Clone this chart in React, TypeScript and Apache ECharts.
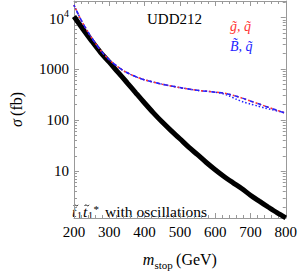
import React, { useEffect, useRef } from "react";
import * as echarts from "echarts";

const stopMass = [200, 225, 250, 275, 300, 325, 350, 375, 400, 425, 450, 475, 500, 525, 550, 575, 600, 625, 650, 675, 700, 725, 750, 775, 800];
const stopXsec = [10500, 6000, 3500, 2100, 1350, 850, 540, 340, 215, 138, 91, 62, 43, 29.5, 21, 14.8, 10.7, 7.9, 6.0, 4.6, 3.4, 2.6, 2.0, 1.55, 1.23];

const upperMass = [200, 220, 240, 260, 280, 300, 320, 340, 360, 380, 400, 450, 500, 550, 600, 625, 650, 675, 700, 725, 750, 775, 800];
const gluinoXsec = [17500, 9000, 5200, 3200, 2100, 1500, 1150, 920, 780, 680, 610, 500, 430, 380, 350, 335, 305, 270, 235, 205, 178, 155, 135];
const binoXsec = [17500, 9000, 5200, 3200, 2100, 1500, 1150, 920, 780, 680, 610, 500, 430, 380, 350, 335, 305, 270, 235, 205, 178, 155, 135];

const binoAltMass = [200, 220, 240, 260, 280, 300, 320, 340, 360, 380, 400, 450, 500, 550, 600, 620, 640, 660, 680, 700, 720, 740, 760, 780, 800];
const binoAltXsec = [17500, 9000, 5200, 3200, 2100, 1500, 1150, 920, 780, 680, 610, 500, 430, 380, 350, 330, 295, 255, 225, 205, 188, 172, 160, 148, 138];

const xTicks = [200, 300, 400, 500, 600, 700, 800];
const yMin = 1.22;
const yMax = 21100;

const pairs = (xs: number[], ys: number[]) => xs.map((x, i) => [x, ys[i]]);

const SERIF = "Liberation Serif";

export default function App() {
  const ref = useRef<HTMLDivElement>(null);
  useEffect(() => {
    if (!ref.current) return;
    const chart = echarts.init(ref.current, null, { renderer: "svg" });
    const axisGray = "#999999";
    const baseX = {
      type: "value",
      min: xTicks[0],
      max: xTicks[xTicks.length - 1],
      interval: 100,
      axisLine: { show: true, lineStyle: { color: axisGray, width: 1 } },
      axisTick: { show: true, inside: true, length: 5, lineStyle: { color: axisGray } },
      minorTick: { show: true, splitNumber: 5, length: 3, lineStyle: { color: axisGray } },
      splitLine: { show: false },
    };
    const baseY = {
      type: "log",
      logBase: 10,
      min: yMin,
      max: yMax,
      axisLine: { show: true, lineStyle: { color: axisGray, width: 1 } },
      axisTick: { show: true, inside: true, length: 5, lineStyle: { color: axisGray } },
      minorTick: { show: true, splitNumber: 9, length: 3, lineStyle: { color: axisGray } },
      splitLine: { show: false },
    };
    const txt = (text: string, x: number, y: number, size: number, italic = false) => ({
      type: "text",
      x,
      y,
      style: {
        text,
        fontFamily: SERIF,
        fontStyle: italic ? "italic" : "normal",
        fontSize: size,
        fill: "#000",
        verticalAlign: "top",
        align: "left",
      },
    });
    const tilde = (x: number, y: number) => ({
      type: "bezierCurve",
      shape: { x1: x, y1: y + 1.2, x2: x + 4.6, y2: y, cpx1: x + 1.6, cpy1: y - 1.8, cpx2: x + 3, cpy2: y + 3 },
      style: { stroke: "#000", lineWidth: 0.9, fill: null },
    });
    chart.setOption({
      animation: false,
      grid: { left: 60, right: 13, top: 1, bottom: 48, containLabel: false },
      xAxis: [
        {
          ...baseX,
          position: "bottom",
          axisLabel: { show: true, margin: 6, color: "#000", fontFamily: SERIF, fontSize: 15 },
          name: "{m|m}{s|stop} {g|(GeV)}",
          nameLocation: "middle",
          nameGap: 31,
          nameTextStyle: {
            rich: {
              m: { fontFamily: SERIF, fontStyle: "italic", fontSize: 16, color: "#000", lineHeight: 18, verticalAlign: "bottom" },
              s: { fontFamily: SERIF, fontSize: 11, color: "#000", lineHeight: 18, verticalAlign: "bottom", padding: [0, 0, -3, 0] },
              g: { fontFamily: SERIF, fontSize: 16, color: "#000", lineHeight: 18, verticalAlign: "bottom" },
            },
          },
        },
        {
          ...baseX,
          position: "top",
          axisLabel: { show: false },
        },
      ],
      yAxis: [
        {
          ...baseY,
          position: "left",
          axisLabel: {
            show: true,
            margin: 5,
            showMinLabel: false,
            showMaxLabel: false,
            color: "#000",
            fontFamily: SERIF,
            fontSize: 15,
            formatter: (v: number) => (Math.abs(v - 10000) < 1 ? "{b|10}{p|4}" : String(Math.round(v))),
            rich: {
              b: { fontFamily: SERIF, fontSize: 15, color: "#000", lineHeight: 18, verticalAlign: "bottom" },
              p: { fontFamily: SERIF, fontSize: 10, color: "#000", lineHeight: 18, verticalAlign: "top" },
            },
          },
          name: "{s|σ} {f|(fb)}",
          nameLocation: "middle",
          nameGap: 50,
          nameRotate: 90,
          nameTextStyle: {
            rich: {
              s: { fontFamily: SERIF, fontStyle: "italic", fontSize: 16, color: "#000" },
              f: { fontFamily: SERIF, fontSize: 16, color: "#000" },
            },
          },
        },
        {
          ...baseY,
          position: "right",
          axisLabel: { show: false },
        },
      ],
      graphic: [
        {
          type: "text",
          left: 147,
          top: 11,
          style: { text: "UDD212", fontFamily: SERIF, fontSize: 15, fill: "#000" },
        },
        {
          type: "text",
          left: 230,
          top: 19,
          style: { text: "g̃, q̃", fontFamily: SERIF, fontStyle: "italic", fontSize: 14, fill: "#ff3333" },
        },
        {
          type: "text",
          left: 230,
          top: 39,
          style: { text: "B̃, q̃", fontFamily: SERIF, fontStyle: "italic", fontSize: 14, fill: "#2222ff" },
        },
        {
          type: "group",
          x: 72,
          y: 203,
          children: [
            txt("t", 0, 0, 15.5, true),
            txt("1", 5, 7.6, 10),
            txt("t", 11, 0, 15.5, true),
            txt("1", 16, 7.6, 10),
            txt("*", 21.5, 0, 11),
            txt("with oscillations", 33, 0, 15.5),
            tilde(1.5, 1.8),
            tilde(12.5, 1.8),
          ],
        },
      ],
      series: [
        {
          type: "line",
          name: "stop",
          data: pairs(stopMass, stopXsec),
          symbol: "none",
          smooth: 0.3,
          lineStyle: { color: "#000", width: 5 },
          z: 2,
        },
        {
          type: "line",
          name: "bino alt",
          data: pairs(binoAltMass, binoAltXsec),
          symbol: "none",
          smooth: 0.3,
          lineStyle: { color: "#2222ff", width: 1.5, type: [1.5, 2] },
          z: 3,
        },
        {
          type: "line",
          name: "gluino",
          data: pairs(upperMass, gluinoXsec),
          symbol: "none",
          smooth: 0.3,
          lineStyle: { color: "#ff3333", width: 1.5, type: [2, 2] },
          z: 3,
        },
        {
          type: "line",
          name: "bino",
          data: pairs(upperMass, binoXsec),
          symbol: "none",
          smooth: 0.3,
          lineStyle: { color: "#2222ff", width: 1.5, type: [4, 4], dashOffset: 2 },
          z: 4,
        },
      ],
    });
    return () => chart.dispose();
  }, []);
  return (
    <div style={{ position: "fixed", left: 0, top: 0, width: 300, height: 275, background: "#fff" }}>
      <div ref={ref} style={{ width: 300, height: 275 }} />
    </div>
  );
}
